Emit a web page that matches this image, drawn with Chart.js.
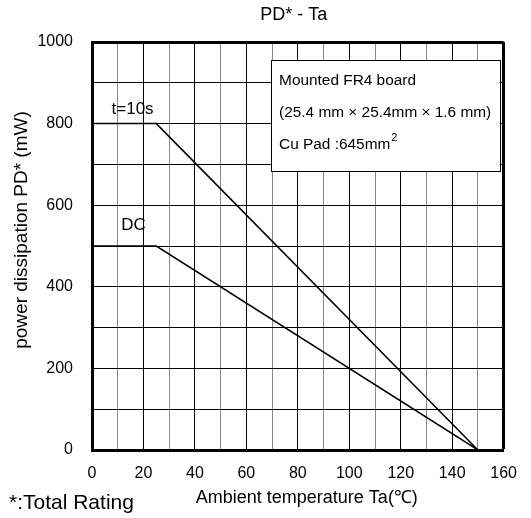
<!DOCTYPE html>
<html>
<head>
<meta charset="utf-8">
<script src="https://cdn.jsdelivr.net/npm/chart.js@4/dist/chart.umd.min.js"></script>
<style>
  html, body { margin: 0; padding: 0; background: #fff; }
  #wrap { width: 531px; height: 518px; position: relative; }
</style>
</head>
<body>
<div id="wrap"><canvas id="pd"></canvas></div>
<script>
// --- data ------------------------------------------------------------------
const ambientTemp = [0, 25, 150];        // Ta (°C)
const powerPulse  = [800, 800, 0];       // t=10s (mW)
const powerDC     = [500, 500, 0];       // DC (mW)

const xTicks = [0, 20, 40, 60, 80, 100, 120, 140, 160];
const yTicks = [0, 200, 400, 600, 800, 1000];

const boxLines = ['Mounted FR4 board', '(25.4 mm \u00d7 25.4mm \u00d7 1.6 mm)', 'Cu Pad :645mm'];

const FONT = "'Liberation Sans', Arial, sans-serif";

function toPoints(xs, ys) { return xs.map((x, i) => ({ x: x, y: ys[i] })); }

// extra texts: chart/axis titles, footnote, series labels, board note box
const decorations = {
	id: 'decorations',
	afterDraw(chart) {
		const ctx = chart.ctx;
		const xs = chart.scales.x, ys = chart.scales.y;
		const area = chart.chartArea;
		ctx.save();
		ctx.fillStyle = '#000';
		ctx.textBaseline = 'middle';

		ctx.font = '18px ' + FONT;
		ctx.textAlign = 'center';
		ctx.fillText('PD* - Ta', (area.left + area.right) / 2 - 4, 15);

		ctx.fillText('Ambient temperature Ta(\u2103)', (area.left + area.right) / 2 + 9, 498);

		ctx.save();
		ctx.translate(22, 230);
		ctx.rotate(-Math.PI / 2);
		ctx.font = '19px ' + FONT;
		ctx.fillText('power dissipation PD* (mW)', 0, 0);
		ctx.restore();

		ctx.textAlign = 'left';
		ctx.font = '21px ' + FONT;
		ctx.fillText('*:Total Rating', 9, 503);

		ctx.font = '17px ' + FONT;
		ctx.fillText('t=10s', xs.getPixelForValue(7.6), ys.getPixelForValue(836));
		ctx.fillText('DC', xs.getPixelForValue(11.4), ys.getPixelForValue(551));

		// note box
		const bl = xs.getPixelForValue(69.6), br = xs.getPixelForValue(158.5);
		const bt = ys.getPixelForValue(956), bb = ys.getPixelForValue(684);
		ctx.fillStyle = '#fff';
		ctx.fillRect(bl, bt, br - bl, bb - bt);
		ctx.strokeStyle = '#000';
		ctx.lineWidth = 1;
		ctx.strokeRect(Math.round(bl) + 0.5, Math.round(bt) + 0.5, Math.round(br - bl), Math.round(bb - bt));

		ctx.fillStyle = '#000';
		ctx.font = '15.4px ' + FONT;
		boxLines.forEach((t, i) => ctx.fillText(t, bl + 8, bt + 21 + i * 32));
		const w = ctx.measureText(boxLines[2]).width;
		ctx.font = '11px ' + FONT;
		ctx.fillText('2', bl + 8 + w + 1, bt + 21 + 2 * 32 - 7);
		ctx.restore();
	}
};

new Chart(document.getElementById('pd'), {
	type: 'line',
	data: {
		datasets: [
			{ label: 't=10s', data: toPoints(ambientTemp, powerPulse), borderColor: '#000',
			  borderWidth: 1.5, pointRadius: 0, tension: 0, fill: false },
			{ label: 'DC', data: toPoints(ambientTemp, powerDC), borderColor: '#000',
			  borderWidth: 1.5, pointRadius: 0, tension: 0, fill: false }
		]
	},
	options: {
		responsive: true, maintainAspectRatio: false, animation: false,
		layout: { autoPadding: false, padding: { top: 42, right: 18, bottom: 0, left: 0 } },
		plugins: { legend: { display: false }, tooltip: { enabled: false } },
		scales: {
			x: {
				type: 'linear', min: 0, max: 160,
				afterFit: s => { s.height = 68; },
				ticks: {
					stepSize: 10, padding: 14, color: '#000', maxRotation: 0, autoSkip: false,
					font: { family: FONT, size: 16 },
					callback: v => xTicks.includes(v) ? String(v) : ''
				},
				grid: {
					drawTicks: false,
					color: c => (c.tick && c.tick.value % 20 === 0) ? '#000' : '#8a8a8a',
					lineWidth: c => (c.tick && c.tick.value === 160) ? 3 : 1
				},
				border: { display: true, color: '#000', width: 3 }
			},
			y: {
				type: 'linear', min: 0, max: 1000,
				afterFit: s => { s.width = 92; },
				ticks: {
					stepSize: 100, padding: 19, color: '#000', autoSkip: false,
					font: { family: FONT, size: 16 },
					callback: v => yTicks.includes(v) ? String(v) : ''
				},
				grid: {
					drawTicks: false,
					color: '#000',
					lineWidth: c => (c.tick && c.tick.value === 1000) ? 3 : 1
				},
				border: { display: true, color: '#000', width: 3 }
			}
		}
	},
	plugins: [decorations]
});
</script>
</body>
</html>
